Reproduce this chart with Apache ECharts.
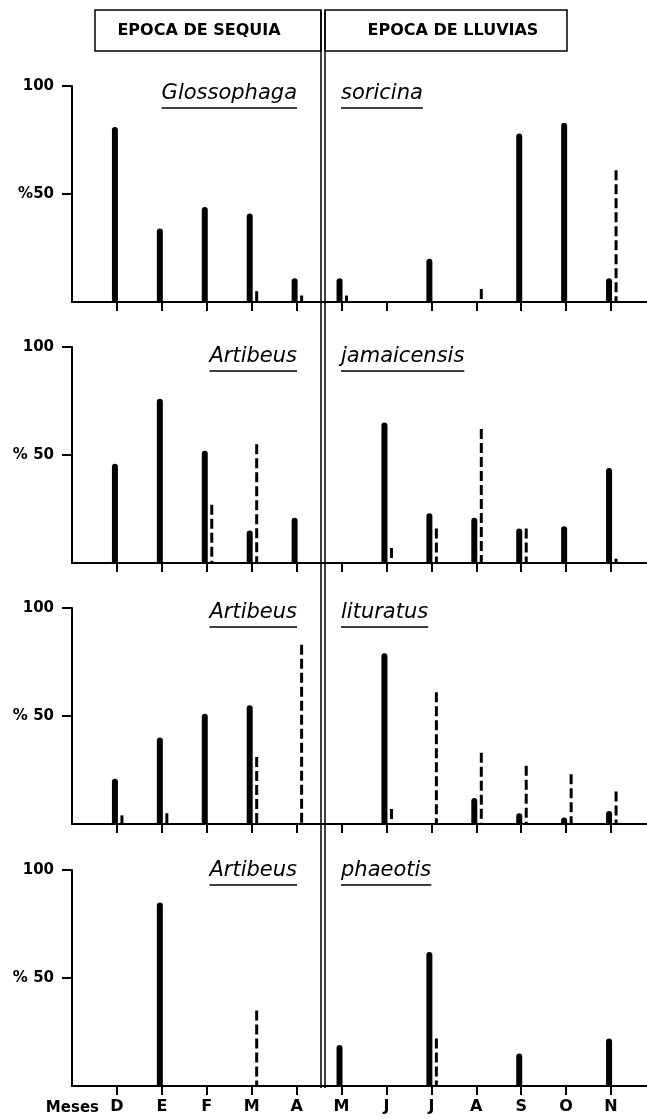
<!DOCTYPE html>
<html>
<head>
<meta charset="utf-8">
<script src="https://cdn.jsdelivr.net/npm/echarts@6/dist/echarts.min.js"></script>
<style>
  html, body { margin: 0; padding: 0; background: #ffffff; }
  #chart { width: 647px; height: 1119px; }
</style>
</head>
<body>
<div id="chart"></div>
<script>
// Month categories (December to November)
const months = ['D', 'E', 'F', 'M', 'A', 'M', 'J', 'J', 'A', 'S', 'O', 'N'];
const seasons = ['EPOCA DE SEQUIA', 'EPOCA DE LLUVIAS'];
const genusNames = ['Glossophaga', 'Artibeus', 'Artibeus', 'Artibeus'];
const speciesNames = ['soricina', 'jamaicensis', 'lituratus', 'phaeotis'];
const yTickValues = [50, 100];
const yTickLabelsFirst = ['%50', '100'];
const yTickLabelsOther = ['% 50', '100'];
const monthAxisTitle = 'Meses';

// Percentages per month: solid bars and dashed bars
const soricinaSolid = [81, 34, 44, 41, 11, 11, 0, 20, 0, 78, 83, 11];
const soricinaDashed = [0, 0, 0, 5, 3, 3, 0, 0, 6, 0, 0, 61];

const jamaicensisSolid = [46, 76, 52, 15, 21, 0, 65, 23, 21, 16, 17, 44];
const jamaicensisDashed = [0, 0, 27, 55, 0, 0, 7, 16, 62, 16, 0, 2];

const lituratusSolid = [21, 40, 51, 55, 0, 0, 79, 0, 12, 5, 3, 6];
const lituratusDashed = [4, 5, 0, 31, 83, 0, 7, 61, 33, 27, 23, 15];

const phaeotisSolid = [0, 85, 0, 0, 0, 19, 0, 62, 0, 15, 0, 22];
const phaeotisDashed = [0, 0, 0, 35, 0, 0, 0, 22, 0, 0, 0, 0];

const solidSets = [soricinaSolid, jamaicensisSolid, lituratusSolid, phaeotisSolid];
const dashedSets = [soricinaDashed, jamaicensisDashed, lituratusDashed, phaeotisDashed];

// Layout
const gridLeft = 72;
const panelTops = [86, 347, 608, 870];
const panelHeight = 216;
const xMin = -1, xMax = 11.8;
const dividerX = [321, 325];
const genusRight = 297;
const speciesLeft = 341;
const nameCenters = [94, 357, 613, 871];

const labelFont = '"DejaVu Sans", sans-serif';
const nameFont = 'italic 21px "DejaVu Sans", sans-serif';

const monthIdx = months.map((_, i) => i);

function toPoints(arr) { return arr.map((v, i) => [i, v]); }

function renderSolid(params, api) {
  const v = api.value(1);
  if (!v) return null;
  const top = api.coord([api.value(0), v]);
  const base = api.coord([api.value(0), 0]);
  const w = 6;
  return {
    type: 'rect',
    shape: { x: top[0] - 2 - w / 2, y: top[1], width: w, height: base[1] - top[1], r: [3, 3, 0, 0] },
    style: { fill: '#000' }
  };
}

function renderDashed(params, api) {
  const v = api.value(1);
  if (!v) return null;
  const top = api.coord([api.value(0), v]);
  const base = api.coord([api.value(0), 0]);
  const x = top[0] + 5;
  return {
    type: 'line',
    shape: { x1: x, y1: top[1], x2: x, y2: base[1] },
    style: { stroke: '#000', lineWidth: 3, lineDash: [10, 4], lineCap: 'butt' }
  };
}

const grids = [], xAxes = [], yAxes = [], series = [];
panelTops.forEach((top, i) => {
  grids.push({ left: gridLeft, right: 0, top: top, height: panelHeight });
  xAxes.push({
    gridIndex: i, type: 'value', min: xMin, max: xMax, interval: 1,
    axisLine: { show: true, onZero: false, lineStyle: { color: '#000', width: 2 } },
    axisTick: { show: true, customValues: monthIdx, length: 9, lineStyle: { color: '#000', width: 2 } },
    axisLabel: {
      show: i === panelTops.length - 1, customValues: monthIdx, margin: 13,
      formatter: v => months[Math.round(v)] || '',
      color: '#000', fontFamily: labelFont, fontWeight: 'bold', fontSize: 16
    },
    splitLine: { show: false }
  });
  const labels = i === 0 ? yTickLabelsFirst : yTickLabelsOther;
  yAxes.push({
    gridIndex: i, type: 'value', min: 0, max: 100, interval: 50,
    axisLine: { show: true, onZero: false, lineStyle: { color: '#000', width: 2 } },
    axisTick: { show: true, customValues: yTickValues, length: 10, lineStyle: { color: '#000', width: 2 } },
    axisLabel: {
      customValues: yTickValues, margin: 18,
      formatter: v => labels[yTickValues.indexOf(v)] || '',
      color: '#000', fontFamily: labelFont, fontWeight: 'bold', fontSize: 15
    },
    splitLine: { show: false }
  });
  series.push({
    type: 'custom', name: genusNames[i] + ' ' + speciesNames[i],
    xAxisIndex: i, yAxisIndex: i, encode: { x: 0, y: 1 },
    renderItem: renderSolid, data: toPoints(solidSets[i]), silent: true
  });
  series.push({
    type: 'custom', name: genusNames[i] + ' ' + speciesNames[i] + ' (2)',
    xAxisIndex: i, yAxisIndex: i, encode: { x: 0, y: 1 },
    renderItem: renderDashed, data: toPoints(dashedSets[i]), silent: true
  });
});

// Text width for the underlines under the species names
const measureCtx = document.createElement('canvas').getContext('2d');
measureCtx.font = nameFont;
function textWidth(t) { return measureCtx.measureText(t).width; }

const graphic = [];
// Season header box, split by the double divider
graphic.push({
  type: 'rect', shape: { x: 95, y: 10, width: dividerX[0] - 95, height: 41 },
  style: { fill: null, stroke: '#000', lineWidth: 1.5 }, z: 10
});
graphic.push({
  type: 'rect', shape: { x: dividerX[1], y: 10, width: 567 - dividerX[1], height: 41 },
  style: { fill: null, stroke: '#000', lineWidth: 1.5 }, z: 10
});
graphic.push({
  type: 'text', x: 199, y: 31,
  style: { text: seasons[0], fill: '#000', font: 'bold 16px "DejaVu Sans", sans-serif', align: 'center', verticalAlign: 'middle' }, z: 10
});
graphic.push({
  type: 'text', x: 453, y: 31,
  style: { text: seasons[1], fill: '#000', font: 'bold 16px "DejaVu Sans", sans-serif', align: 'center', verticalAlign: 'middle' }, z: 10
});
// Double vertical divider between the dry and rainy seasons
dividerX.forEach(x => {
  graphic.push({
    type: 'line', shape: { x1: x, y1: 10, x2: x, y2: 1088 },
    style: { stroke: '#000', lineWidth: 1.5 }, z: 10
  });
});
// Species names (genus left of the divider, epithet right of it), underlined
nameCenters.forEach((cy, i) => {
  const gw = textWidth(genusNames[i]);
  const sw = textWidth(speciesNames[i]);
  graphic.push({
    type: 'text', x: genusRight, y: cy,
    style: { text: genusNames[i], fill: '#000', font: nameFont, align: 'right', verticalAlign: 'middle' }, z: 10
  });
  graphic.push({
    type: 'line', shape: { x1: genusRight - gw, y1: cy + 14, x2: genusRight, y2: cy + 14 },
    style: { stroke: '#000', lineWidth: 1.5 }, z: 10
  });
  graphic.push({
    type: 'text', x: speciesLeft, y: cy,
    style: { text: speciesNames[i], fill: '#000', font: nameFont, align: 'left', verticalAlign: 'middle' }, z: 10
  });
  graphic.push({
    type: 'line', shape: { x1: speciesLeft, y1: cy + 14, x2: speciesLeft + sw, y2: cy + 14 },
    style: { stroke: '#000', lineWidth: 1.5 }, z: 10
  });
});
// Month axis title
graphic.push({
  type: 'text', x: 99, y: 1108,
  style: { text: monthAxisTitle, fill: '#000', font: 'bold 15px "DejaVu Sans", sans-serif', align: 'right', verticalAlign: 'middle' }, z: 10
});

const chart = echarts.init(document.getElementById('chart'), null, { renderer: 'canvas' });
chart.setOption({
  backgroundColor: '#ffffff',
  animation: false,
  grid: grids,
  xAxis: xAxes,
  yAxis: yAxes,
  series: series,
  graphic: graphic
});
</script>
</body>
</html>
